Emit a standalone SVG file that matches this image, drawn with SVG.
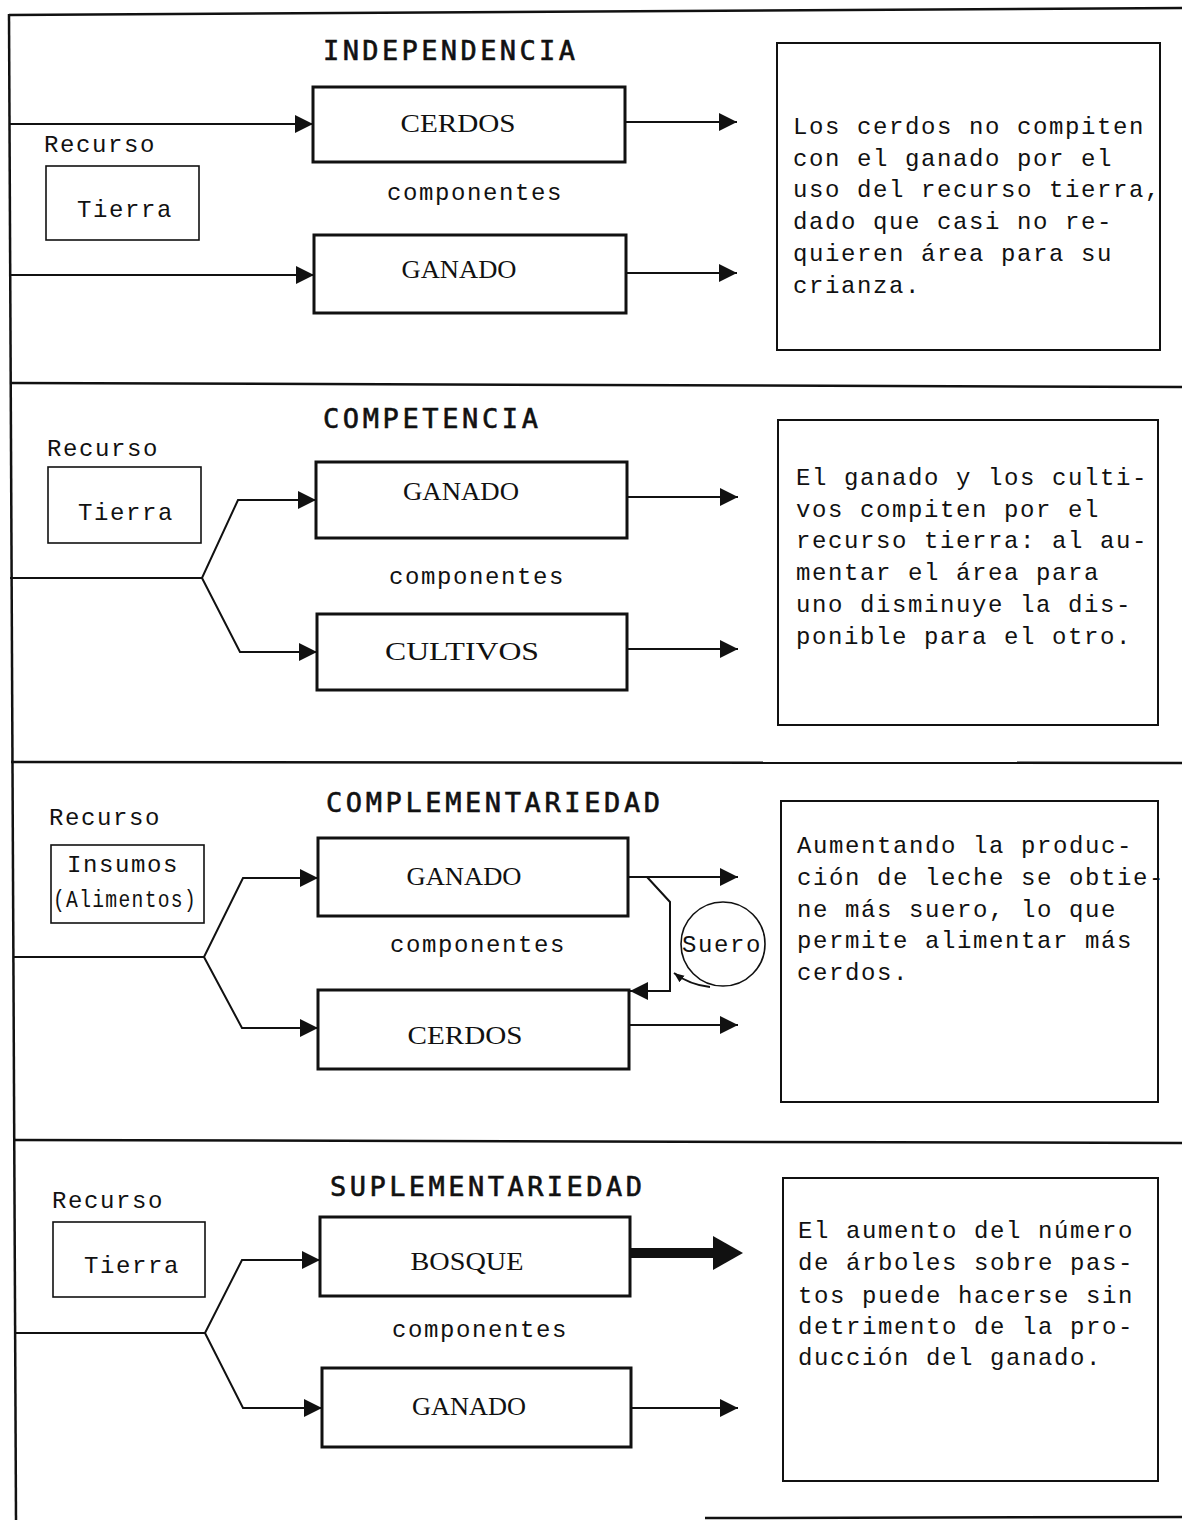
<svg xmlns="http://www.w3.org/2000/svg" width="1182" height="1520" viewBox="0 0 1182 1520">
<style>
.frame{fill:none;stroke:#111;stroke-width:2.5}
.box{fill:#fff;stroke:#111;stroke-width:3}
.res{fill:#fff;stroke:#111;stroke-width:1.6}
.note{fill:#fff;stroke:#111;stroke-width:2}
.title{font-family:"DejaVu Sans Mono",monospace;font-size:27px;fill:#111;stroke:#111;stroke-width:0.6}
.lbl{font-family:"Liberation Serif",serif;font-size:26px;fill:#111;text-anchor:middle}
.mono{font-family:"Liberation Mono",monospace;font-size:24px;letter-spacing:1.6px;fill:#111}
.ln{fill:none;stroke:#111;stroke-width:2}
</style>
<defs>
<marker id="ah" viewBox="0 0 18 18" refX="18" refY="9" markerWidth="18" markerHeight="18" markerUnits="userSpaceOnUse" orient="auto"><path d="M0,0 L18,9 L0,18 z" fill="#111"/></marker>
<marker id="ahs" viewBox="0 0 12 12" refX="12" refY="6" markerWidth="10" markerHeight="10" markerUnits="userSpaceOnUse" orient="auto"><path d="M0,1 L12,6 L0,11 z" fill="#111"/></marker>
</defs>
<rect width="1182" height="1520" fill="#fff"/>
<g id="frame">
<line class="frame" x1="9" y1="15" x2="1182" y2="8"/>
<line class="frame" x1="9" y1="14" x2="16" y2="1520"/>
<line class="frame" x1="10" y1="383" x2="1182" y2="387"/>
<line class="frame" x1="11" y1="762" x2="1182" y2="763"/>
<line class="frame" x1="13" y1="1140" x2="1182" y2="1143"/>
<line class="frame" x1="705" y1="1518" x2="1182" y2="1517" stroke-width="1.5"/>
</g>

<g id="section1">
<text class="title" x="323" y="60" textLength="252" lengthAdjust="spacing">INDEPENDENCIA</text>
<g id="s1-recurso"><text class="mono" x="44" y="152">Recurso</text>
<rect class="res" x="46" y="166" width="153" height="74"/><text class="mono" x="77" y="217">Tierra</text></g>
<g id="s1-cerdos"><rect class="box" x="313" y="87" width="312" height="75"/><text class="lbl" x="458" y="132" textLength="115" lengthAdjust="spacingAndGlyphs">CERDOS</text></g>
<text class="mono" x="387" y="200">componentes</text>
<g id="s1-ganado"><rect class="box" x="314" y="235" width="312" height="78"/><text class="lbl" x="459" y="278" textLength="115" lengthAdjust="spacingAndGlyphs">GANADO</text></g>
<g id="s1-note"><rect class="note" x="777" y="43" width="383" height="307"/>
<text class="mono" x="793" y="134">Los cerdos no compiten</text>
<text class="mono" x="793" y="166">con el ganado por el</text>
<text class="mono" x="793" y="197">uso del recurso tierra,</text>
<text class="mono" x="793" y="229">dado que casi no re-</text>
<text class="mono" x="793" y="261">quieren área para su</text>
<text class="mono" x="793" y="293">crianza.</text></g>
</g>

<g id="section2">
<text class="title" x="323" y="428" textLength="215" lengthAdjust="spacing">COMPETENCIA</text>
<g id="s2-recurso"><text class="mono" x="47" y="456">Recurso</text>
<rect class="res" x="48" y="467" width="153" height="76"/><text class="mono" x="78" y="520">Tierra</text></g>
<g id="s2-ganado"><rect class="box" x="316" y="462" width="311" height="76"/><text class="lbl" x="461" y="500" textLength="116" lengthAdjust="spacingAndGlyphs">GANADO</text></g>
<text class="mono" x="389" y="584">componentes</text>
<g id="s2-cultivos"><rect class="box" x="317" y="614" width="310" height="76"/><text class="lbl" x="462" y="660" textLength="154" lengthAdjust="spacingAndGlyphs">CULTIVOS</text></g>
<g id="s2-note"><rect class="note" x="778" y="420" width="380" height="305"/>
<text class="mono" x="796" y="485">El ganado y los culti-</text>
<text class="mono" x="796" y="517">vos compiten por el</text>
<text class="mono" x="796" y="548">recurso tierra: al au-</text>
<text class="mono" x="796" y="580">mentar el área para</text>
<text class="mono" x="796" y="612">uno disminuye la dis-</text>
<text class="mono" x="796" y="644">ponible para el otro.</text></g>
</g>

<g id="section3">
<text class="title" x="326" y="812" textLength="334" lengthAdjust="spacing">COMPLEMENTARIEDAD</text>
<g id="s3-recurso"><text class="mono" x="49" y="825">Recurso</text>
<rect class="res" x="51" y="845" width="153" height="78"/>
<text class="mono" x="67" y="872">Insumos</text>
<text class="mono" x="53" y="907" textLength="144" lengthAdjust="spacingAndGlyphs">(Alimentos)</text></g>
<g id="s3-ganado"><rect class="box" x="318" y="838" width="310" height="78"/><text class="lbl" x="464" y="885" textLength="115" lengthAdjust="spacingAndGlyphs">GANADO</text></g>
<text class="mono" x="390" y="952">componentes</text>
<g id="s3-cerdos"><rect class="box" x="318" y="990" width="311" height="79"/><text class="lbl" x="465" y="1044" textLength="115" lengthAdjust="spacingAndGlyphs">CERDOS</text></g>
<g id="s3-suero"><circle cx="723" cy="944" r="42" fill="none" stroke="#111" stroke-width="1.6"/><text class="mono" x="722" y="952" text-anchor="middle" letter-spacing="0">Suero</text></g>
<g id="s3-note"><rect class="note" x="781" y="801" width="377" height="301"/>
<text class="mono" x="797" y="853">Aumentando la produc-</text>
<text class="mono" x="797" y="885">ción de leche se obtie-</text>
<text class="mono" x="797" y="917">ne más suero, lo que</text>
<text class="mono" x="797" y="948">permite alimentar más</text>
<text class="mono" x="797" y="980">cerdos.</text></g>
</g>

<g id="section4">
<text class="title" x="330" y="1196" textLength="312" lengthAdjust="spacing">SUPLEMENTARIEDAD</text>
<g id="s4-recurso"><text class="mono" x="52" y="1208">Recurso</text>
<rect class="res" x="53" y="1222" width="152" height="75"/><text class="mono" x="84" y="1273">Tierra</text></g>
<g id="s4-bosque"><rect class="box" x="320" y="1217" width="310" height="79"/><text class="lbl" x="467" y="1270" textLength="113" lengthAdjust="spacingAndGlyphs">BOSQUE</text></g>
<text class="mono" x="392" y="1337">componentes</text>
<g id="s4-ganado"><rect class="box" x="322" y="1368" width="309" height="79"/><text class="lbl" x="469" y="1415" textLength="114" lengthAdjust="spacingAndGlyphs">GANADO</text></g>
<g id="s4-note"><rect class="note" x="783" y="1178" width="375" height="303"/>
<text class="mono" x="798" y="1238">El aumento del número</text>
<text class="mono" x="798" y="1270">de árboles sobre pas-</text>
<text class="mono" x="798" y="1303">tos puede hacerse sin</text>
<text class="mono" x="798" y="1334">detrimento de la pro-</text>
<text class="mono" x="798" y="1365">ducción del ganado.</text></g>
</g>

<g id="connectors">
<line class="ln" x1="10" y1="124" x2="313" y2="124" marker-end="url(#ah)"/>
<line class="ln" x1="10" y1="275" x2="314" y2="275" marker-end="url(#ah)"/>
<line class="ln" x1="625" y1="122" x2="737" y2="122" marker-end="url(#ah)"/>
<line class="ln" x1="626" y1="273" x2="737" y2="273" marker-end="url(#ah)"/>

<polyline class="ln" points="10,578 202,578 238,500 316,500" marker-end="url(#ah)"/>
<polyline class="ln" points="202,578 240,652 317,652" marker-end="url(#ah)"/>
<line class="ln" x1="627" y1="497" x2="738" y2="497" marker-end="url(#ah)"/>
<line class="ln" x1="627" y1="649" x2="738" y2="649" marker-end="url(#ah)"/>

<polyline class="ln" points="13,957 204,957 243,878 318,878" marker-end="url(#ah)"/>
<polyline class="ln" points="204,957 242,1028 318,1028" marker-end="url(#ah)"/>
<line class="ln" x1="628" y1="877" x2="738" y2="877" marker-end="url(#ah)"/>
<line class="ln" x1="629" y1="1025" x2="738" y2="1025" marker-end="url(#ah)"/>
<polyline class="ln" points="647,877 670,902 670,991 630,991" marker-end="url(#ah)"/>
<path class="ln" d="M710,987 Q690,985 674,973" stroke-width="1.5" marker-end="url(#ahs)"/>

<polyline class="ln" points="16,1333 205,1333 242,1260 320,1260" marker-end="url(#ah)"/>
<polyline class="ln" points="205,1333 243,1408 322,1408" marker-end="url(#ah)"/>
<line x1="630" y1="1253" x2="716" y2="1253" stroke="#111" stroke-width="10"/>
<polygon points="713,1236 743,1253 713,1270" fill="#111"/>
<line class="ln" x1="631" y1="1408" x2="738" y2="1408" marker-end="url(#ah)"/>
</g>
</svg>
